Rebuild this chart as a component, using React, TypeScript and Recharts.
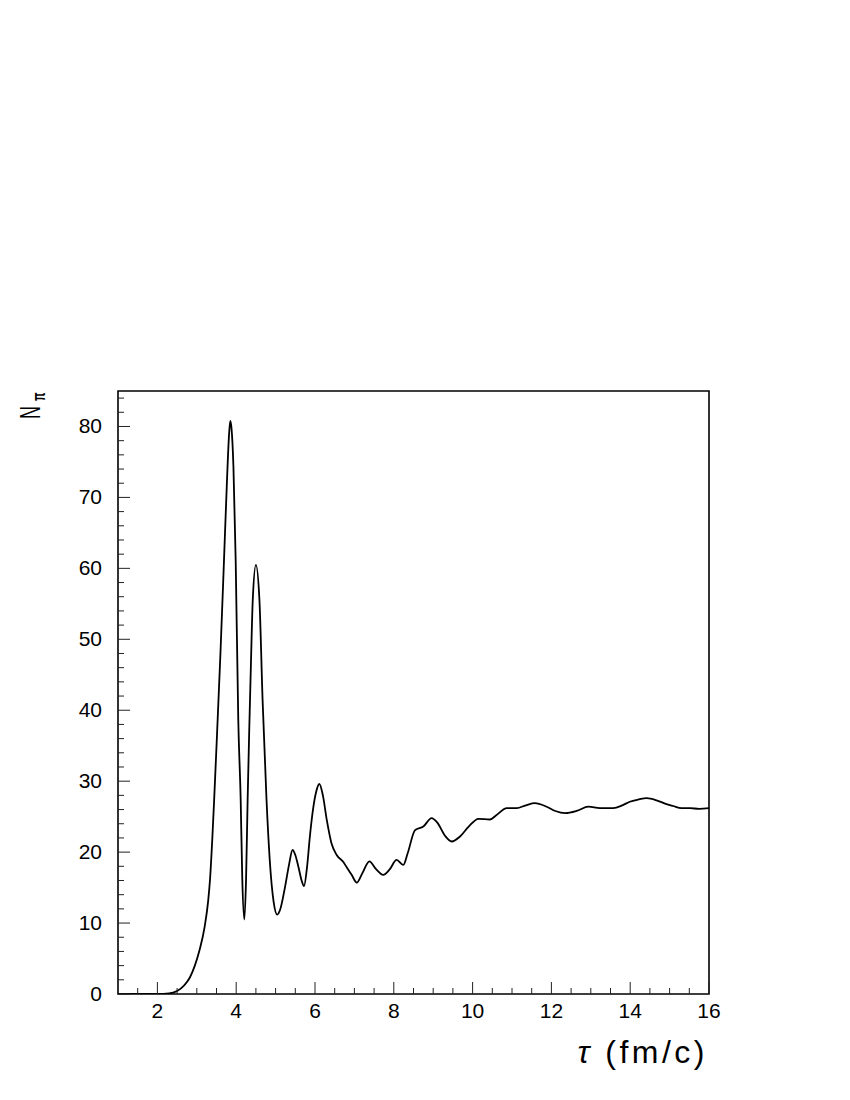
import { LineChart, Line, XAxis, YAxis, ReferenceArea } from 'recharts';

// proper time tau (fm/c)
const tau = [
  1.0, 1.5, 2.0, 2.3, 2.4, 2.6, 2.75, 2.83, 2.95, 3.07, 3.2, 3.29, 3.335, 3.39, 3.44,
  3.52, 3.6, 3.69, 3.76, 3.82, 3.85, 3.88, 3.93, 3.987, 4.053, 4.114, 4.155, 4.206, 4.25,
  4.29, 4.33, 4.376, 4.42, 4.5, 4.59, 4.67, 4.77, 4.85, 4.95, 5.04, 5.11, 5.24, 5.34, 5.43,
  5.5, 5.58, 5.66, 5.72, 5.8, 5.87, 5.96, 6.03, 6.11, 6.2, 6.3, 6.42, 6.55, 6.72, 6.8,
  6.93, 7.06, 7.2, 7.38, 7.55, 7.73, 7.9, 8.07, 8.24, 8.35, 8.54, 8.75, 8.96, 9.1, 9.3,
  9.47, 9.68, 9.9, 10.15, 10.44, 10.6, 10.87, 11.12, 11.35, 11.58, 11.88, 12.1, 12.35,
  12.64, 12.94, 13.23, 13.57, 13.8, 13.99, 14.2, 14.42, 14.67, 14.9, 15.09, 15.3, 15.52,
  15.75, 16.0,
];

// number of pions N_pi
const pions = [
  0, 0, 0, 0.1, 0.2, 0.8, 1.7, 2.4, 4.0, 6.2, 9.5, 13.2, 16.1, 21.5, 27.3,
  37.5, 48, 61.1, 71.5, 79, 80.8, 79.8, 74.3, 61.1, 38.6, 27.3, 16.1, 10.5, 16.1,
  27.3, 37, 47, 55.5, 60.5, 55.5, 41.4, 27.3, 19, 13, 11.2, 11.8, 15.1, 18.2, 20.3,
  19.6, 17.9, 16, 15.2, 18, 22.2, 26.4, 28.5, 29.6, 28, 24.5, 21.2, 19.6, 18.6, 17.9,
  16.8, 15.7, 17, 18.7, 17.6, 16.8, 17.6, 18.9, 18.2, 19.8, 23.1, 23.6, 24.8, 24.2, 22.3,
  21.5, 22.2, 23.6, 24.7, 24.6, 25.2, 26.2, 26.2, 26.6, 26.9, 26.4, 25.8, 25.5,
  25.8, 26.4, 26.2, 26.2, 26.6, 27.1, 27.4, 27.6, 27.3, 26.8, 26.5, 26.2, 26.2,
  26.1, 26.2,
];

const X_TICKS = [
  1.5, 2, 2.5, 3, 3.5, 4, 4.5, 5, 5.5, 6, 6.5, 7, 7.5, 8, 8.5, 9, 9.5, 10, 10.5, 11,
  11.5, 12, 12.5, 13, 13.5, 14, 14.5, 15, 15.5, 16,
];
const X_LABELS = [2, 4, 6, 8, 10, 12, 14, 16];
const Y_TICKS = [
  0, 2, 4, 6, 8, 10, 12, 14, 16, 18, 20, 22, 24, 26, 28, 30, 32, 34, 36, 38, 40, 42,
  44, 46, 48, 50, 52, 54, 56, 58, 60, 62, 64, 66, 68, 70, 72, 74, 76, 78, 80, 82, 84,
];
const Y_LABELS = [0, 10, 20, 30, 40, 50, 60, 70, 80];

const data = tau.map((t, i) => ({ tau: t, n: pions[i] }));

const LEFT = 118;
const BOTTOM = 994;
const FONT = '"Liberation Sans", Arial, sans-serif';

function XTick(props: any) {
  const { x, payload } = props;
  const major = X_LABELS.includes(payload.value);
  return (
    <g>
      <line x1={x} y1={BOTTOM} x2={x} y2={BOTTOM - (major ? 12 : 6)} stroke="#222" strokeWidth={1} />
      {major && (
        <text x={x} y={1018} textAnchor="middle" fontSize={21} fontFamily={FONT} fill="#000">
          {payload.value}
        </text>
      )}
    </g>
  );
}

function YTick(props: any) {
  const { y, payload } = props;
  const major = Y_LABELS.includes(payload.value);
  return (
    <g>
      <line x1={LEFT} y1={y} x2={LEFT + (major ? 12 : 6)} y2={y} stroke="#222" strokeWidth={1} />
      {major && (
        <text x={102} y={y + 7} textAnchor="end" fontSize={21} fontFamily={FONT} fill="#000">
          {payload.value}
        </text>
      )}
    </g>
  );
}

export default function App() {
  return (
    <div style={{ position: 'absolute', left: 0, top: 0, width: 850, height: 1100, background: '#fff' }}>
      <LineChart
        width={850}
        height={1100}
        data={data}
        margin={{ top: 391, right: 141, bottom: 76, left: 58 }}
      >
        <XAxis
          dataKey="tau"
          type="number"
          domain={[1, 16]}
          ticks={X_TICKS}
          interval={0}
          height={30}
          axisLine={false}
          tickLine={false}
          tick={XTick}
          allowDataOverflow
        />
        <YAxis
          type="number"
          domain={[0, 85]}
          ticks={Y_TICKS}
          interval={0}
          width={60}
          axisLine={false}
          tickLine={false}
          tick={YTick}
          allowDataOverflow
        />
        <ReferenceArea
          x1={1}
          x2={16}
          y1={0}
          y2={85}
          fill="none"
          stroke="#000"
          strokeWidth={1.6}
          ifOverflow="visible"
        />
        <Line
          type="monotone"
          dataKey="n"
          stroke="#000"
          strokeWidth={1.8}
          dot={false}
          isAnimationActive={false}
        />
      </LineChart>
      <svg
        width={850}
        height={1100}
        style={{ position: 'absolute', left: 0, top: 0, pointerEvents: 'none' }}
      >
        <g transform="translate(40,419) rotate(-90) scale(0.62,1)">
          <text x={0} y={0} fontSize={29} fontFamily={FONT} fill="#000">
            N
            <tspan dx={8} dy={5} fontSize={18} fontWeight="bold">
              π
            </tspan>
          </text>
        </g>
        <text
          x={708}
          y={1063}
          textAnchor="end"
          fontSize={32}
          letterSpacing={3.5}
          fontFamily={FONT}
          fill="#000"
        >
          <tspan fontStyle="italic">τ</tspan> (fm/c)
        </text>
      </svg>
    </div>
  );
}
